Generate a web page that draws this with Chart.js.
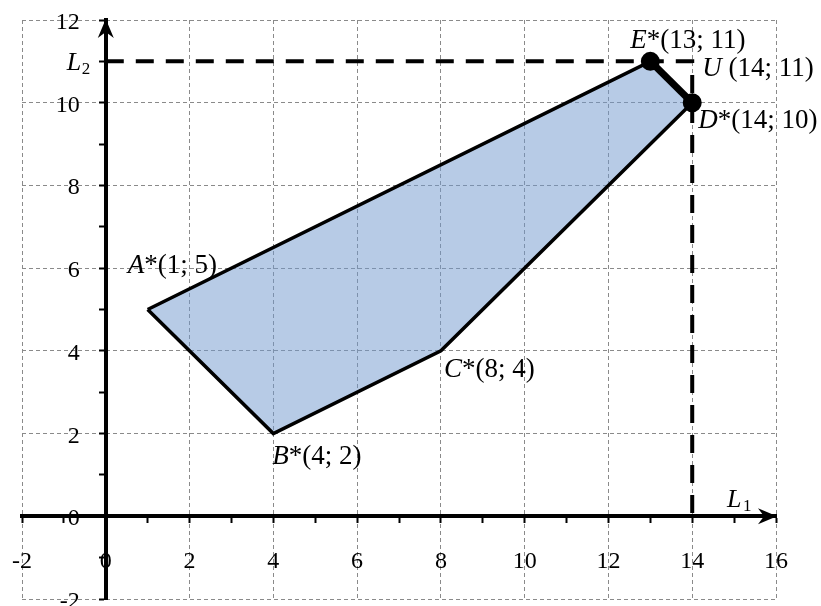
<!DOCTYPE html>
<html>
<head>
<meta charset="utf-8">
<script src="https://cdn.jsdelivr.net/npm/chart.js@4.4.1/dist/chart.umd.min.js"></script>
<style>
  body { margin: 0; background: #fff; }
  #wrap { width: 821px; height: 606px; }
</style>
</head>
<body>
<div id="wrap"><canvas id="myChart"></canvas></div>
<script>
// vertices of the feasible set in the (L1, L2) plane
const pointNames = ['A', 'B', 'C', 'D', 'E'];
const L1 = [1, 4, 8, 14, 13];
const L2 = [5, 2, 4, 10, 11];
// utopia point
const utopiaName = 'U';
const utopiaL1 = 14;
const utopiaL2 = 11;
// axes
const xRange = [-2, 16];
const yRange = [-2, 12];
const tickStep = 1;
const labelStep = 2;

const serif = '"Liberation Serif", "Times New Roman", serif';
// where each vertex label starts, relative to the vertex (px)
const labelOffsets = [[-20, -37], [-1, 30], [3, 26], [6, 25], [-20, -13]];
const utopiaOffset = [10, 15];

let vertices = pointNames.map((n, i) => ({x: L1[i], y: L2[i]}));

let drawLabel = (ctx, letter, rest, x, y) => {
    ctx.font = 'italic 27px ' + serif;
    ctx.fillText(letter, x, y);
    let w = ctx.measureText(letter).width;
    ctx.font = '27px ' + serif;
    ctx.fillText(rest, x + w, y);
};

const extras = {
    id: 'extras',
    afterDraw(chart) {
        const ctx = chart.ctx;
        const xs = chart.scales.x, ys = chart.scales.y;
        const x0 = xs.getPixelForValue(0), y0 = ys.getPixelForValue(0);
        ctx.save();
        ctx.fillStyle = '#000';

        /* tick labels */
        ctx.font = '24px ' + serif;
        ctx.textBaseline = 'alphabetic';
        ctx.textAlign = 'center';
        xs.ticks.forEach(t => {
            if (t.value % labelStep !== 0) return;
            ctx.fillText(String(t.value), xs.getPixelForValue(t.value), y0 + 52);
        });
        ctx.textAlign = 'right';
        ys.ticks.forEach(t => {
            if (t.value % labelStep !== 0) return;
            ctx.fillText(String(t.value), x0 - 26, ys.getPixelForValue(t.value) + 9);
        });

        /* arrow heads */
        let xe = xs.getPixelForValue(xRange[1]);
        ctx.beginPath();
        ctx.moveTo(xe + 1, y0);
        ctx.lineTo(xe - 18, y0 - 8);
        ctx.lineTo(xe - 12, y0);
        ctx.lineTo(xe - 18, y0 + 8);
        ctx.closePath();
        ctx.fill();
        let ye = ys.getPixelForValue(yRange[1]);
        ctx.beginPath();
        ctx.moveTo(x0, ye - 1);
        ctx.lineTo(x0 - 8, ye + 18);
        ctx.lineTo(x0, ye + 12);
        ctx.lineTo(x0 + 8, ye + 18);
        ctx.closePath();
        ctx.fill();

        /* axis names */
        ctx.textAlign = 'left';
        ctx.font = 'italic 26px ' + serif;
        ctx.fillText('L', x0 - 39, ys.getPixelForValue(utopiaL2) + 9);
        ctx.fillText('L', xs.getPixelForValue(15) - 7, y0 - 9);
        ctx.font = '17px ' + serif;
        ctx.fillText('2', x0 - 24, ys.getPixelForValue(utopiaL2) + 13);
        ctx.fillText('1', xs.getPixelForValue(15) + 9, y0 - 5);

        /* vertex labels */
        const pts = chart.getDatasetMeta(0).data;
        pointNames.forEach((n, i) => {
            let p = pts[i];
            drawLabel(ctx, n, '*(' + L1[i] + '; ' + L2[i] + ')', p.x + labelOffsets[i][0], p.y + labelOffsets[i][1]);
        });
        drawLabel(ctx, utopiaName, ' (' + utopiaL1 + '; ' + utopiaL2 + ')',
            xs.getPixelForValue(utopiaL1) + utopiaOffset[0], ys.getPixelForValue(utopiaL2) + utopiaOffset[1]);
        ctx.restore();
    }
};

let axisOptions = (range, pos) => ({
    type: 'linear',
    min: range[0],
    max: range[1],
    position: pos,
    // axes sit inside the plot, so they should not take any room
    afterFit: s => {
        s.paddingLeft = s.paddingRight = s.paddingTop = s.paddingBottom = 0;
        if (s.isHorizontal()) s.height = 0; else s.width = 0;
    },
    ticks: {
        stepSize: tickStep,
        autoSkip: false,
        display: false
    },
    grid: {
        color: c => c.tick && c.tick.value % labelStep === 0 ? '#8a8a8a' : 'rgba(0,0,0,0)',
        lineWidth: 1,
        tickColor: '#000',
        tickLength: 5,
        tickWidth: 2
    },
    border: {display: true, color: '#000', width: 4, dash: [4, 3]}
});

const dataset = {
    datasets: [
        {
            label: 'feasible set',
            data: vertices.concat([vertices[0]]),
            fill: 'shape',
            backgroundColor: 'rgba(111, 151, 205, 0.5)',
            borderColor: '#000',
            borderWidth: 3.5,
            pointRadius: 0,
            tension: 0,
            order: 2
        },
        {
            label: 'utopia',
            data: [{x: 0, y: utopiaL2}, {x: utopiaL1, y: utopiaL2}, {x: utopiaL1, y: 0}],
            fill: false,
            borderColor: '#000',
            borderWidth: 4,
            borderDash: [18, 12],
            pointRadius: 0,
            order: 1
        },
        {
            label: 'D*E*',
            data: [vertices[3], vertices[4]],
            fill: false,
            borderColor: '#000',
            borderWidth: 7,
            pointRadius: 6,
            pointBackgroundColor: '#000',
            pointBorderColor: '#000',
            order: 0
        }
    ]
};

const config = {
    type: 'line',
    data: dataset,
    plugins: [extras],
    options: {
        responsive: true,
        maintainAspectRatio: false,
        animation: false,
        layout: {padding: {left: 22, right: 45, top: 20, bottom: 7}, autoPadding: false},
        plugins: {legend: {display: false}, tooltip: {enabled: false}},
        scales: {
            x: axisOptions(xRange, {y: 0}),
            y: axisOptions(yRange, {x: 0})
        }
    }
};

const chart = new Chart(document.getElementById('myChart'), config);
</script>
</body>
</html>
